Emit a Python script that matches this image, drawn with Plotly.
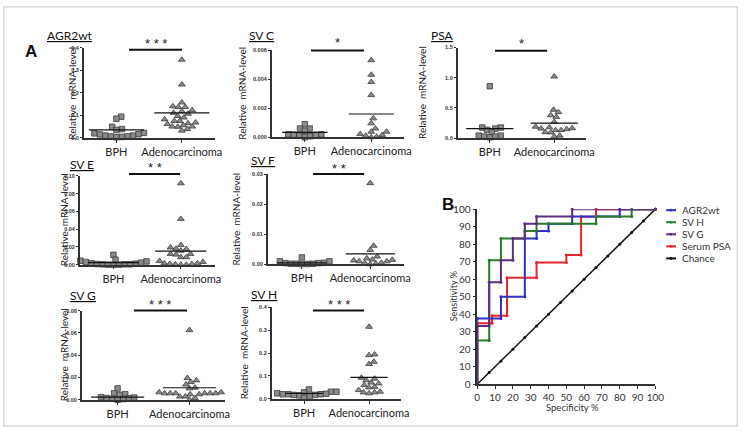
import numpy as np
import plotly.graph_objects as go

W, H = 747, 433

# ---------------- data ----------------
groups = ["BPH", "Adenocarcinoma"]

agr2wt_bph = [0.094, 0.085, 0.049, 0.039, 0.035, 0.022, 0.020, 0.016, 0.015, 0.010, 0.010, 0.007, 0.006, 0.004, 0.003]
agr2wt_adeno = [0.347, 0.237, 0.157, 0.140, 0.137, 0.137, 0.123, 0.118, 0.111, 0.107, 0.097, 0.090, 0.082, 0.075,
                0.075, 0.068, 0.065, 0.061, 0.056, 0.050, 0.050, 0.049, 0.039, 0.032]
agr2wt_means = [0.035, 0.111]

svc_bph = [0.0009, 0.0006, 0.0006, 0.00045, 0.0002, 0.0002, 0.00018, 0.00011, 0.00007, 0.0, 0.00016]
svc_adeno = [0.0053, 0.0043, 0.0038, 0.0029, 0.0013, 0.00096, 0.0006, 0.00038, 0.00038, 0.00022, 0.00016,
             0.0001, 0.00004, 0.0]
svc_means = [0.00033, 0.0016]

psa_bph = [0.86, 0.177, 0.177, 0.16, 0.139, 0.096, 0.043, 0.043, 0.027, 0.027, 0.016]
psa_adeno = [1.02, 0.47, 0.43, 0.38, 0.35, 0.27, 0.19, 0.18, 0.166, 0.16, 0.15, 0.134, 0.134, 0.10, 0.096,
             0.043, 0.027]
psa_means = [0.16, 0.25]

sve_bph = [0.011, 0.0055, 0.0044, 0.0036, 0.003, 0.0022, 0.0015, 0.0011, 0.0007, 0.0004, 0.0004, 0.0004,
           0.0, 0.0, 0.0]
sve_adeno = [0.0916, 0.0515, 0.022, 0.0193, 0.018, 0.0175, 0.0157, 0.012, 0.012, 0.0113, 0.0084, 0.0084,
             0.004, 0.003, 0.0015, 0.0015, 0.0007, 0.0007, 0.0, 0.0, 0.0003]
sve_means = [0.0022, 0.0153]

svf_bph = [0.0023, 0.001, 0.001, 0.0005, 0.0004, 0.0004, 0.0002, 0.0002, 0.0001, 0.0001, 0.0002]
svf_adeno = [0.0271, 0.0062, 0.0048, 0.0026, 0.002, 0.0016, 0.0015, 0.0013, 0.001, 0.001, 0.0005, 0.0004,
             0.0002, 0.0]
svf_means = [0.0005, 0.0035]

svg_bph = [0.0102, 0.0058, 0.005, 0.0044, 0.0023, 0.002, 0.0015, 0.0015, 0.0009, 0.0006, 0.0]
svg_adeno = [0.0625, 0.0195, 0.0174, 0.016, 0.0137, 0.0108, 0.0102, 0.0067, 0.0067, 0.0058, 0.0058, 0.0058,
             0.0058, 0.0049, 0.0058, 0.0029, 0.0029, 0.0015, 0.0, 0.0049, 0.0058]
svg_means = [0.0023, 0.0108]

svh_bph = [0.041, 0.031, 0.031, 0.028, 0.024, 0.022, 0.020, 0.020, 0.020, 0.017, 0.017, 0.015, 0.010, 0.005]
svh_adeno = [0.315, 0.194, 0.191, 0.162, 0.152, 0.092, 0.088, 0.081, 0.071, 0.067, 0.060, 0.052, 0.050,
             0.038, 0.031, 0.028, 0.028, 0.024]
svh_means = [0.024, 0.094]

# ROC curves (x = 100 - specificity %, y = sensitivity %)
roc_agr2wt_x = [0, 0, 13.3, 13.3, 26.7, 26.7, 33.3, 33.3, 40, 40, 53.3, 53.3, 80, 80, 100]
roc_agr2wt_y = [0, 37.5, 37.5, 50, 50, 83.3, 83.3, 87.5, 87.5, 91.7, 91.7, 95.8, 95.8, 100, 100]
roc_svh_x = [0, 0, 6.7, 6.7, 13.3, 13.3, 26.7, 26.7, 33.3, 33.3, 66.7, 66.7, 86.7, 86.7, 100]
roc_svh_y = [0, 25, 25, 70.8, 70.8, 83.3, 83.3, 87.5, 87.5, 91.7, 91.7, 95.8, 95.8, 100, 100]
roc_svg_x = [0, 0, 6.7, 6.7, 13.3, 13.3, 20, 20, 26.7, 26.7, 33.3, 33.3, 53.3, 53.3, 100]
roc_svg_y = [0, 33.3, 33.3, 58.3, 58.3, 70.8, 70.8, 83.3, 83.3, 91.7, 91.7, 95.8, 95.8, 100, 100]
roc_psa_x = [0, 0, 8.3, 8.3, 16.7, 16.7, 33.3, 33.3, 50, 50, 58.3, 58.3, 66.7, 66.7, 100]
roc_psa_y = [0, 34.8, 34.8, 39.1, 39.1, 60.9, 60.9, 69.6, 69.6, 73.9, 73.9, 95.7, 95.7, 100, 100]
chance_x = [0, 6.67, 13.33, 20, 26.67, 33.33, 40, 46.67, 53.33, 60, 66.67, 73.33, 80, 86.67, 93.33, 100]
chance_y = [0, 6.67, 13.33, 20, 26.67, 33.33, 40, 46.67, 53.33, 60, 66.67, 73.33, 80, 86.67, 93.33, 100]

roc_names = ["AGR2wt", "SV H", "SV G", "Serum PSA", "Chance"]

# ---------------- layout helpers ----------------
def px(x):
    return x / W


def py(y):
    return 1 - y / H


FONT = "Lato"
AXC = "#333333"

panels = [
    dict(title="AGR2wt", bph=agr2wt_bph, adeno=agr2wt_adeno, means=agr2wt_means, ymax=0.4,
         tickvals=[0, 0.1, 0.2, 0.3, 0.4], fmt=".1f", stars="* * *",
         box=(82, 215, 43, 135.6), title_xy=(43, 30), ytitle_x=70, cat_y=146,
         bar=(128, 182, 45), star_y=39, mhw=28),
    dict(title="SV C", bph=svc_bph, adeno=svc_adeno, means=svc_means, ymax=0.006,
         tickvals=[0, 0.002, 0.004, 0.006], fmt=".3f", stars="*",
         box=(273, 408, 45.3, 135), title_xy=(248, 30), ytitle_x=243, cat_y=146,
         bar=(313, 367, 45.7), star_y=38, mhw=23),
    dict(title="PSA", bph=psa_bph, adeno=psa_adeno, means=psa_means, ymax=1.5,
         tickvals=[0, 0.5, 1.0, 1.5], fmt=".1f", stars="*",
         box=(462, 593, 42.7, 136), title_xy=(433, 30), ytitle_x=426, cat_y=146,
         bar=(500, 553, 46), star_y=39, mhw=24),
    dict(title="SV E", bph=sve_bph, adeno=sve_adeno, means=sve_means, ymax=0.10,
         tickvals=[0, 0.02, 0.04, 0.06, 0.08, 0.10], fmt=".2f", stars="* *",
         box=(78, 215, 174.7, 266), title_xy=(66, 163), ytitle_x=62, cat_y=275,
         bar=(128, 180, 172.7), star_y=166, mhw=26),
    dict(title="SV F", bph=svf_bph, adeno=svf_adeno, means=svf_means, ymax=0.03,
         tickvals=[0, 0.01, 0.02, 0.03], fmt=".2f", stars="* *",
         box=(269, 408, 173.3, 265.7), title_xy=(250, 159), ytitle_x=237, cat_y=276,
         bar=(315, 367, 172.7), star_y=166.7, mhw=25),
    dict(title="SV G", bph=svg_bph, adeno=svg_adeno, means=svg_means, ymax=0.08,
         tickvals=[0, 0.02, 0.04, 0.06, 0.08], fmt=".2f", stars="* * *",
         box=(80, 226, 313.3, 405), title_xy=(66, 298), ytitle_x=62, cat_y=414,
         bar=(133, 187, 313.3), star_y=306.7, mhw=27),
    dict(title="SV H", bph=svh_bph, adeno=svh_adeno, means=svh_means, ymax=0.4,
         tickvals=[0, 0.1, 0.2, 0.3, 0.4], fmt=".1f", stars="* * *",
         box=(273, 405, 310, 404), title_xy=(250, 297), ytitle_x=245, cat_y=414,
         bar=(315, 367, 313.3), star_y=306.7, mhw=19),
]


def swarm(values, center, ppx, ppy, d=5.3):
    vals = np.asarray(values, dtype=float)
    order = np.argsort(vals, kind="stable")
    placed = []
    xs = np.zeros(len(vals))
    cands = [0.0]
    for k in range(1, 80):
        cands += [k * 0.7, -k * 0.7]
    for i in order:
        yp = vals[i] * ppy
        chosen = 0.0
        for c in cands:
            if all((c - a) ** 2 + (yp - b) ** 2 >= d * d for a, b in placed):
                chosen = c
                break
        placed.append((chosen, yp))
        xs[i] = center + chosen / ppx
    return xs


fig = go.Figure()
layout = dict(
    width=W, height=H, margin=dict(l=0, r=0, t=0, b=0),
    paper_bgcolor="white", plot_bgcolor="white", showlegend=False,
    font=dict(family=FONT, color="#222222"),
)
annotations = []
shapes = []

MFILL = "#8a8a8a"
MLINE = "#3c3c3c"

for i, p in enumerate(panels, start=1):
    x0, x1, yt, yb = p["box"]
    xa = "x" if i == 1 else f"x{i}"
    ya = "y" if i == 1 else f"y{i}"
    ppx = (x1 - x0) / 2.0
    ppy = (yb - yt) / p["ymax"]
    layout["xaxis" if i == 1 else f"xaxis{i}"] = dict(
        domain=[px(x0), px(x1)], range=[0.5, 2.5], tickvals=[1, 2], ticktext=groups,
        showline=True, linecolor=AXC, linewidth=1.5, ticks="outside", ticklen=3, tickcolor=AXC,
        tickwidth=1, tickfont=dict(size=11, family=FONT, color="#222"), showgrid=False,
        zeroline=False, anchor=ya, fixedrange=True)
    layout["yaxis" if i == 1 else f"yaxis{i}"] = dict(
        domain=[py(yb), py(yt)], range=[0, p["ymax"]], tickvals=p["tickvals"], tickformat=p["fmt"],
        showline=True, linecolor=AXC, linewidth=1.5, ticks="outside", ticklen=2, tickcolor=AXC,
        tickwidth=1, tickfont=dict(size=5.5, family="Liberation Sans", color="#333", weight="bold"),
        showgrid=False, zeroline=False, anchor=xa, fixedrange=True)

    bx = swarm(p["bph"], 1, ppx, ppy)
    ax = swarm(p["adeno"], 2, ppx, ppy)
    fig.add_trace(go.Scatter(x=bx, y=p["bph"], mode="markers", xaxis=xa, yaxis=ya, cliponaxis=False,
                             marker=dict(symbol="square", size=5.5, color=MFILL,
                                         line=dict(color=MLINE, width=0.8))))
    fig.add_trace(go.Scatter(x=ax, y=p["adeno"], mode="markers", xaxis=xa, yaxis=ya, cliponaxis=False,
                             marker=dict(symbol="triangle-up", size=6, color=MFILL,
                                         line=dict(color=MLINE, width=0.8))))
    hw = p["mhw"] / ppx
    for c, m in zip([1, 2], p["means"]):
        fig.add_trace(go.Scatter(x=[c - hw, c + hw], y=[m, m], mode="lines", xaxis=xa, yaxis=ya,
                                 cliponaxis=False, line=dict(color="#111", width=1.2)))

    # title (underlined)
    tx, ty = p["title_xy"]
    annotations.append(dict(x=px(tx), y=py(ty), xref="paper", yref="paper", xanchor="left",
                            yanchor="middle", showarrow=False, text=f"<u>{p['title']}</u>",
                            font=dict(size=12, family=FONT, color="#111")))
    # y title
    annotations.append(dict(x=px(p["ytitle_x"]), y=py((yt + yb) / 2), xref="paper", yref="paper",
                            xanchor="center", yanchor="middle", showarrow=False, textangle=-90,
                            text="Relative  mRNA-level", font=dict(size=10, family=FONT, color="#222")))
    # significance bar and stars
    b0, b1, by = p["bar"]
    shapes.append(dict(type="line", xref="paper", yref="paper", x0=px(b0), x1=px(b1), y0=py(by),
                       y1=py(by), line=dict(color="#111", width=2)))
    annotations.append(dict(x=px((b0 + b1) / 2), y=py(p["star_y"]), xref="paper", yref="paper",
                            xanchor="center", yanchor="middle", showarrow=False, text=p["stars"],
                            font=dict(size=13, family="Liberation Sans", color="#222")))

# ---------------- ROC panel ----------------
RX0, RX1, RYT, RYB = 482, 663, 209, 389
layout["xaxis8"] = dict(domain=[px(RX0), px(RX1)], range=[0, 100], tickvals=list(range(0, 101, 10)),
                        showline=True, linecolor=AXC, linewidth=1.5, ticks="outside", ticklen=3,
                        tickcolor=AXC, tickfont=dict(size=10, family=FONT, color="#333"),
                        showgrid=False, zeroline=False, anchor="y8", fixedrange=True)
layout["yaxis8"] = dict(domain=[py(RYB), py(RYT)], range=[0, 100], tickvals=list(range(0, 101, 10)),
                        showline=True, linecolor=AXC, linewidth=1.5, ticks="outside", ticklen=3,
                        tickcolor=AXC, tickfont=dict(size=10, family=FONT, color="#333"),
                        showgrid=False, zeroline=False, anchor="x8", fixedrange=True)

roc_colors = ["#2f2fc8", "#2b7a2b", "#5b2c80", "#e8252b", "#111111"]
roc_series = [(roc_agr2wt_x, roc_agr2wt_y), (roc_svh_x, roc_svh_y), (roc_svg_x, roc_svg_y),
              (roc_psa_x, roc_psa_y)]
order = [3, 0, 1, 2]
fig.add_trace(go.Scatter(x=chance_x, y=chance_y, mode="lines+markers", xaxis="x8", yaxis="y8",
                         cliponaxis=False, line=dict(color=roc_colors[4], width=1.5),
                         marker=dict(size=3, color=roc_colors[4])))
for k in order:
    xs, ys = roc_series[k]
    fig.add_trace(go.Scatter(x=xs, y=ys, mode="lines+markers", xaxis="x8", yaxis="y8", cliponaxis=False,
                             line=dict(color=roc_colors[k], width=2),
                             marker=dict(size=3, color=roc_colors[k])))

annotations.append(dict(x=px(579), y=py(413), xref="paper", yref="paper", xanchor="center",
                        yanchor="middle", showarrow=False, text="Specificity %",
                        font=dict(size=9.5, family=FONT, color="#333")))
annotations.append(dict(x=px(458), y=py((RYT + RYB) / 2), xref="paper", yref="paper", xanchor="center",
                        yanchor="middle", showarrow=False, text="Sensitivity %", textangle=-90,
                        font=dict(size=9, family=FONT, color="#333")))

# manual legend
for j, (name, col) in enumerate(zip(roc_names, roc_colors)):
    yy = 210 + j * 12.4
    shapes.append(dict(type="line", xref="paper", yref="paper", x0=px(674), x1=px(684), y0=py(yy),
                       y1=py(yy), line=dict(color=col, width=2)))
    shapes.append(dict(type="circle", xref="paper", yref="paper", x0=px(677.6), x1=px(680.4),
                       y0=py(yy + 1.4), y1=py(yy - 1.4), fillcolor=col, line=dict(color=col, width=0)))
    annotations.append(dict(x=px(688), y=py(yy), xref="paper", yref="paper", xanchor="left",
                            yanchor="middle", showarrow=False, text=name,
                            font=dict(size=10, family=FONT, color="#333")))

# panel letters
annotations.append(dict(x=px(20), y=py(35), xref="paper", yref="paper", showarrow=False, text="<b>A</b>",
                        font=dict(size=17, family="Liberation Sans", color="#111")))
annotations.append(dict(x=px(452), y=py(204), xref="paper", yref="paper", showarrow=False, text="<b>B</b>",
                        font=dict(size=17, family="Liberation Sans", color="#111")))

# frame
shapes.append(dict(type="rect", xref="paper", yref="paper", x0=px(0.8), x1=px(746.2), y0=py(432.2),
                   y1=py(0.8), line=dict(color="#d0d0d0", width=1.2)))

layout["annotations"] = annotations
layout["shapes"] = shapes
fig.update_layout(**layout)
fig.write_html("out.html", config={"displayModeBar": False},
               post_script="document.body.style.margin='0';document.body.style.overflow='hidden';")
